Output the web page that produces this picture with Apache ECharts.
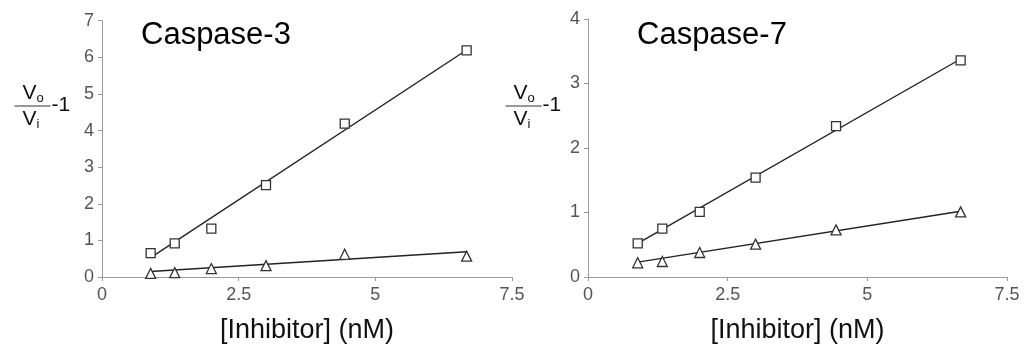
<!DOCTYPE html>
<html>
<head>
<meta charset="utf-8">
<script src="https://cdn.jsdelivr.net/npm/echarts@6/dist/echarts.min.js"></script>
<style>
html,body{margin:0;padding:0;background:#fff;}
#c{width:1026px;height:354px;}
</style>
</head>
<body>
<div id="c"></div>
<script>
// Data
var inhibitorNM = [0.89, 1.33, 2.0, 3.0, 4.44, 6.67];
var casp3Squares = [0.65, 0.92, 1.32, 2.51, 4.19, 6.19];
var casp3Triangles = [0.10, 0.12, 0.23, 0.31, 0.62, 0.57];
var casp3SquareFit = [[0.89, 0.53], [6.67, 6.20]];
var casp3TriangleFit = [[0.89, 0.15], [6.67, 0.69]];
var casp7Squares = [0.52, 0.75, 1.01, 1.54, 2.34, 3.36];
var casp7Triangles = [0.22, 0.24, 0.38, 0.51, 0.73, 1.01];
var casp7SquareFit = [[0.89, 0.52], [6.67, 3.38]];
var casp7TriangleFit = [[0.89, 0.23], [6.67, 1.02]];
var xTicks = [0, 2.5, 5, 7.5];
var titles = ['Caspase-3', 'Caspase-7'];
var xTitle = '[Inhibitor] (nM)';

function pairs(xs, ys) { return xs.map(function (x, i) { return [x, ys[i]]; }); }

var FONT = '"Liberation Sans", Arial, sans-serif';
var chart = echarts.init(document.getElementById('c'));

function xAxisOf(gi) {
  return {
    gridIndex: gi, type: 'value', min: xTicks[0], max: xTicks[xTicks.length - 1],
    interval: xTicks[1] - xTicks[0],
    axisLine: { lineStyle: { color: '#9a9a9a', width: 1 } },
    axisTick: { show: true, length: 4, lineStyle: { color: '#9a9a9a' } },
    axisLabel: { color: '#555', fontSize: 18, fontFamily: FONT, margin: 9,
      formatter: function (v) { return String(v); } },
    splitLine: { show: false },
    name: xTitle, nameLocation: 'middle', nameGap: 40,
    nameTextStyle: { color: '#111', fontSize: 27, fontFamily: FONT }
  };
}
function yAxisOf(gi, max) {
  return {
    gridIndex: gi, type: 'value', min: 0, max: max, interval: 1,
    axisLine: { show: true, lineStyle: { color: '#9a9a9a', width: 1 } },
    axisTick: { show: true, length: 4, lineStyle: { color: '#9a9a9a' } },
    axisLabel: { color: '#555', fontSize: 18, fontFamily: FONT, margin: 8 },
    splitLine: { show: false }
  };
}
function markers(gi, data, sym, size) {
  return { type: 'scatter', xAxisIndex: gi, yAxisIndex: gi, data: data, symbol: sym, symbolSize: size,
    itemStyle: { color: '#fff', borderColor: '#333', borderWidth: 1.3, opacity: 1 }, z: 3 };
}
function fit(gi, data) {
  return { type: 'line', xAxisIndex: gi, yAxisIndex: gi, data: data, showSymbol: false,
    lineStyle: { color: '#222', width: 1.4 }, z: 2, silent: true };
}

function yTitle(x0, yBar) {
  return {
    type: 'group', left: x0, top: yBar - 24,
    children: [
      { type: 'text', x: 8, y: 0, style: { text: '{v|V}{s|o}', rich: {
          v: { fontSize: 21, fontFamily: FONT, fill: '#111' },
          s: { fontSize: 13, fontFamily: FONT, fill: '#111', verticalAlign: 'bottom', padding: [10, 0, 0, 0] } } } },
      { type: 'line', shape: { x1: 0, y1: 24, x2: 36, y2: 24 }, style: { stroke: '#333', lineWidth: 1.2 } },
      { type: 'text', x: 8, y: 26, style: { text: '{v|V}{s|i}', rich: {
          v: { fontSize: 21, fontFamily: FONT, fill: '#111' },
          s: { fontSize: 13, fontFamily: FONT, fill: '#111', verticalAlign: 'bottom', padding: [10, 0, 0, 0] } } } },
      { type: 'text', x: 37, y: 13, style: { text: '-1', fontSize: 21, fontFamily: FONT, fill: '#111' } }
    ]
  };
}

chart.setOption({
  animation: false,
  backgroundColor: '#fff',
  grid: [
    { left: 102, top: 20.7, width: 410, height: 256.3, containLabel: false },
    { left: 588, top: 19, width: 419, height: 258, containLabel: false }
  ],
  xAxis: [xAxisOf(0), xAxisOf(1)],
  yAxis: [yAxisOf(0, 7), yAxisOf(1, 4)],
  graphic: [
    { type: 'text', left: 141, top: 20, style: { text: titles[0], fontSize: 31, fontFamily: FONT, fill: '#000' } },
    { type: 'text', left: 637, top: 20, style: { text: titles[1], fontSize: 31, fontFamily: FONT, fill: '#000' } },
    yTitle(12, 107),
    yTitle(503, 107)
  ],
  series: [
    fit(0, casp3SquareFit), fit(0, casp3TriangleFit),
    markers(0, pairs(inhibitorNM, casp3Squares), 'rect', 9),
    markers(0, pairs(inhibitorNM, casp3Triangles), 'triangle', 10),
    fit(1, casp7SquareFit), fit(1, casp7TriangleFit),
    markers(1, pairs(inhibitorNM, casp7Squares), 'rect', 9),
    markers(1, pairs(inhibitorNM, casp7Triangles), 'triangle', 10)
  ]
});
</script>
</body>
</html>
